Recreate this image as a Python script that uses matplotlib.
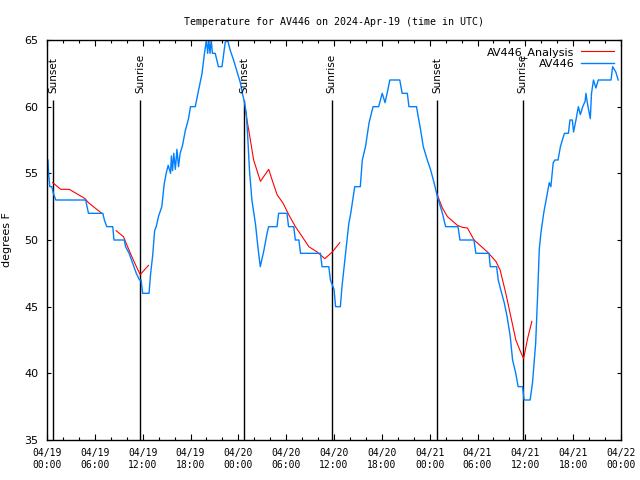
import matplotlib
matplotlib.use("Agg")
import matplotlib.pyplot as plt
import matplotlib.dates as mdates
import numpy as np
from datetime import datetime, timedelta

# data (hours after 2024-04-19 00:00 UTC, deg F)
obs_hours = [0.12, 0.2, 0.35, 0.6, 0.8, 1.1, 4.85, 5.2, 7.0, 7.2, 7.5, 8.25, 8.4, 9.7, 9.85, 10.3,
             10.6, 10.9, 11.2, 11.6, 11.8, 12.0, 12.8, 13.0, 13.25, 13.5, 13.7, 14.0, 14.4, 14.7,
             14.95, 15.2, 15.5, 15.6, 15.75, 15.9, 16.1, 16.3, 16.5, 16.7, 17.0, 17.35, 17.75, 18.0,
             18.6, 19.0, 19.45, 19.75, 20.0, 20.15, 20.3, 20.45, 20.6, 20.75, 21.1, 21.5, 21.95,
             22.35, 22.65, 23.0, 23.4, 23.85, 24.25, 24.5, 24.75, 25.0, 25.2, 25.4, 25.7, 26.15,
             26.45, 26.75, 27.2, 27.6, 27.8, 28.85, 29.05, 30.1, 30.3, 30.95, 31.15, 31.6, 31.8,
             34.3, 34.5, 35.35, 35.55, 36.0, 36.2, 36.8, 37.0, 37.45, 37.85, 38.1, 38.6, 39.3,
             39.55, 39.95, 40.4, 40.9, 41.6, 42.05, 42.4, 42.7, 43.0, 44.25, 44.55, 45.2, 45.4,
             46.35, 46.55, 46.85, 47.2, 47.7, 48.1, 48.55, 48.95, 49.6, 50.0, 51.55, 51.8, 53.55,
             53.8, 55.45, 55.6, 56.4, 56.6, 56.9, 57.35, 57.7, 58.1, 58.4, 58.8, 59.1, 59.65,
             59.85, 60.6, 60.9, 61.1, 61.3, 61.55, 61.75, 61.95, 62.3, 62.7, 63.0, 63.2, 63.5,
             63.7, 64.1, 64.4, 64.7, 64.9, 65.4, 65.6, 65.9, 66.05, 66.35, 66.65, 66.9, 67.2,
             67.5, 67.6, 67.8, 68.15, 68.3, 68.55, 68.85, 69.15, 70.75, 70.95, 71.35, 71.65]
obs_temps = [56, 55, 54, 54, 53.5, 53, 53, 52, 52, 51.5, 51, 51, 50, 50, 49.5, 49,
             48.5, 48, 47.5, 47, 47, 46, 46, 47.5, 48.8, 50.7, 51, 51.8, 52.5, 54.2,
             55, 55.6, 55, 56.3, 55.2, 56.5, 55.3, 56.8, 55.5, 56.5, 57.1, 58.2, 59.1, 60,
             60, 61.2, 62.5, 64, 65, 64, 65, 64, 65, 64, 64, 63, 63,
             64.8, 65, 64.2, 63.5, 62.6, 61.8, 61, 60.4, 59.5, 57.5, 55.2, 53, 51.2,
             49.5, 48, 49.2, 50.5, 51, 51, 52, 52, 51, 51, 50, 50, 49,
             49, 48, 48, 47, 46.3, 45, 45, 46.5, 49, 51.2, 52, 54, 54,
             56, 57, 58.8, 60, 60, 61, 60.3, 61.1, 62, 62, 61, 61, 60,
             60, 59.3, 58.3, 57, 56, 55.3, 54.3, 53.3, 52, 51, 51, 50, 50,
             49, 49, 48, 48, 47, 46.3, 45.3, 44.3, 42.8, 41, 40, 39, 39,
             38, 38, 39.3, 40.8, 42.3, 46, 49.3, 50.5, 52, 53.3, 54.3, 54, 55.8,
             56, 56, 57, 57.6, 58, 58, 59, 59, 58.1, 59, 60, 59.4, 60,
             60.4, 61, 60.2, 59.1, 61, 62, 61.4, 62, 62, 63, 62.6, 62]

ana_hours = [0.72, 1.72, 2.8, 4.78, 5.19, 6.87, np.nan,
             8.67, 9.59, 9.93, 10.64, 11.6, 11.69, 12.73, np.nan,
             24.88, 25.51, 25.92, 26.77, 27.81, 28.24, 28.86, 29.62, 30.32, 31.16, 32.01,
             32.84, 33.89, 34.85, 35.78, 36.73, np.nan,
             48.88, 49.6, 50.23, 51.48, 52.11, 52.74, 53.57, 55.25, 56.3, 56.84, 57.55,
             58.18, 58.81, 59.31, 59.78, 60.28, 60.82]
ana_temps = [54.3, 53.8, 53.8, 53.1, 52.8, 52.0, np.nan,
             50.7, 50.25, 49.75, 48.75, 47.5, 47.4, 48.1, np.nan,
             59.75, 57.5, 56.0, 54.4, 55.3, 54.5, 53.4, 52.75, 51.9, 51.0, 50.25,
             49.5, 49.1, 48.6, 49.1, 49.8, np.nan,
             53.5, 52.4, 51.75, 51.1, 50.95, 50.9, 50.0, 49.1, 48.4, 47.75, 46.0,
             44.25, 42.5, 41.75, 41.1, 42.6, 43.9]

sun_hours = [0.75, 11.69, 24.75, 35.69, 48.94, 59.69]
sun_labels = ["Sunset", "Sunrise", "Sunset", "Sunrise", "Sunset", "Sunrise"]

start = datetime(2024, 4, 19)
def to_time(hs):
    return [start + timedelta(hours=float(h)) if not np.isnan(h) else np.nan for h in hs]

obs_t = to_time(obs_hours)
ana_t = [mdates.date2num(t) if not isinstance(t, float) else np.nan for t in to_time(ana_hours)]
sun_t = to_time(sun_hours)

mono = "DejaVu Sans Mono"

fig = plt.figure(figsize=(6.4, 4.8), dpi=100)
ax = fig.add_axes([47/640, 40/480, 574/640, 400/480])

for t, lab in zip(sun_t, sun_labels):
    ax.vlines(t, 35, 60.5, color="black", lw=1.0)
    ax.text(t, 61.0, lab, rotation=90, ha="center", va="bottom", fontsize=7.5)

ax.plot(ana_t, ana_temps, color="#ff0000", lw=0.8, label="AV446_Analysis")
ax.plot(obs_t, obs_temps, color="#0080ff", lw=1.0, label="AV446")

ax.set_xlim(start, start + timedelta(hours=72))
ax.set_ylim(35, 65)
ax.set_yticks([35, 40, 45, 50, 55, 60, 65])

ax.xaxis.set_major_locator(mdates.HourLocator(byhour=[0, 6, 12, 18]))
ax.xaxis.set_minor_locator(mdates.HourLocator(interval=2))
ax.xaxis.set_major_formatter(mdates.DateFormatter("%m/%d\n%H:%M"))

ax.tick_params(axis="x", which="major", direction="in", top=True, length=4, width=0.8,
               labelsize=7, pad=6)
ax.tick_params(axis="x", which="minor", direction="in", top=True, length=2, width=0.8)
ax.tick_params(axis="y", direction="in", right=True, length=3, width=0.8, labelsize=8, pad=6)
for lab in ax.get_xticklabels():
    lab.set_fontfamily(mono)
for s in ax.spines.values():
    s.set_linewidth(1.0)

ax.set_ylabel("degrees F", fontsize=8)
ax.yaxis.set_label_coords(-35/574, 0.5)
ax.set_title("Temperature for AV446 on 2024-Apr-19 (time in UTC)", fontsize=7.2,
             family=mono, pad=11)

ax.legend(loc="upper right", frameon=False, markerfirst=False, fontsize=8,
          handlelength=3.0, handletextpad=0.6, labelspacing=0.1,
          borderaxespad=0.2)

fig.savefig("out.png", dpi=100)
